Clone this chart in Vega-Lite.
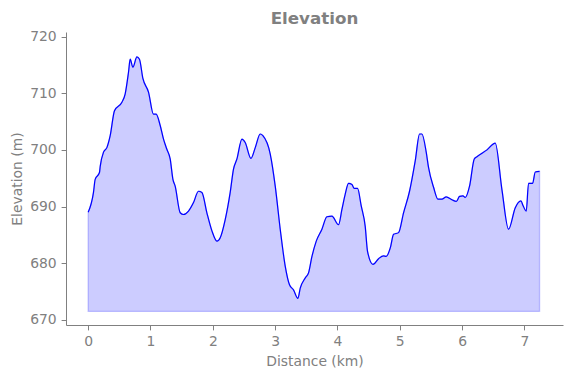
{
  "$schema": "https://vega.github.io/schema/vega-lite/v6.json",
  "width": 497,
  "height": 293,
  "autosize": {"type": "none"},
  "padding": {"left": 66, "top": 32, "right": 8, "bottom": 53},
  "title": {"text": "Elevation", "fontSize": 16.7, "fontWeight": "bold", "color": "#808080", "font": "DejaVu Sans", "offset": 2},
  "config": {
    "view": {"stroke": null},
    "axis": {
      "grid": false,
      "domainColor": "#808080",
      "tickColor": "#808080",
      "labelColor": "#808080",
      "titleColor": "#808080",
      "labelFont": "DejaVu Sans",
      "titleFont": "DejaVu Sans",
      "labelFontSize": 13.9,
      "titleFontSize": 13.9,
      "titleFontWeight": "normal",
      "tickSize": 4.9,
      "labelPadding": 4.9,
      "domainWidth": 1,
      "tickWidth": 1
    }
  },
  "data": {"values": [
    {"d": 0.0, "e": 689.0},
    {"d": 0.085, "e": 692.5},
    {"d": 0.112, "e": 694.8},
    {"d": 0.181, "e": 696.0},
    {"d": 0.193, "e": 697.1},
    {"d": 0.246, "e": 699.6},
    {"d": 0.300, "e": 700.4},
    {"d": 0.353, "e": 702.5},
    {"d": 0.422, "e": 706.9},
    {"d": 0.541, "e": 708.4},
    {"d": 0.594, "e": 709.9},
    {"d": 0.647, "e": 713.7},
    {"d": 0.674, "e": 716.0},
    {"d": 0.717, "e": 714.6},
    {"d": 0.782, "e": 716.4},
    {"d": 0.823, "e": 716.0},
    {"d": 0.878, "e": 712.6},
    {"d": 0.968, "e": 710.2},
    {"d": 1.048, "e": 706.3},
    {"d": 1.091, "e": 706.3},
    {"d": 1.156, "e": 704.3},
    {"d": 1.209, "e": 701.9},
    {"d": 1.263, "e": 700.1},
    {"d": 1.316, "e": 698.4},
    {"d": 1.360, "e": 694.8},
    {"d": 1.396, "e": 693.6},
    {"d": 1.477, "e": 688.9},
    {"d": 1.530, "e": 688.6},
    {"d": 1.610, "e": 689.2},
    {"d": 1.690, "e": 690.7},
    {"d": 1.770, "e": 692.7},
    {"d": 1.825, "e": 692.5},
    {"d": 1.905, "e": 688.9},
    {"d": 1.986, "e": 685.7},
    {"d": 2.066, "e": 683.9},
    {"d": 2.119, "e": 684.5},
    {"d": 2.199, "e": 687.7},
    {"d": 2.279, "e": 692.5},
    {"d": 2.332, "e": 696.6},
    {"d": 2.387, "e": 698.4},
    {"d": 2.467, "e": 701.9},
    {"d": 2.520, "e": 701.3},
    {"d": 2.612, "e": 698.5},
    {"d": 2.681, "e": 700.4},
    {"d": 2.761, "e": 702.8},
    {"d": 2.804, "e": 702.5},
    {"d": 2.921, "e": 699.3},
    {"d": 3.002, "e": 693.6},
    {"d": 3.082, "e": 686.0},
    {"d": 3.162, "e": 679.5},
    {"d": 3.231, "e": 676.2},
    {"d": 3.295, "e": 675.3},
    {"d": 3.366, "e": 673.8},
    {"d": 3.403, "e": 675.6},
    {"d": 3.483, "e": 677.4},
    {"d": 3.536, "e": 678.3},
    {"d": 3.591, "e": 681.2},
    {"d": 3.660, "e": 683.9},
    {"d": 3.751, "e": 686.0},
    {"d": 3.831, "e": 688.2},
    {"d": 3.912, "e": 688.3},
    {"d": 4.018, "e": 686.8},
    {"d": 4.072, "e": 689.5},
    {"d": 4.125, "e": 692.2},
    {"d": 4.178, "e": 694.1},
    {"d": 4.233, "e": 693.9},
    {"d": 4.270, "e": 693.2},
    {"d": 4.323, "e": 693.2},
    {"d": 4.382, "e": 690.1},
    {"d": 4.446, "e": 686.5},
    {"d": 4.483, "e": 682.1},
    {"d": 4.570, "e": 679.8},
    {"d": 4.660, "e": 680.8},
    {"d": 4.740, "e": 681.3},
    {"d": 4.783, "e": 681.2},
    {"d": 4.848, "e": 682.7},
    {"d": 4.901, "e": 685.1},
    {"d": 4.981, "e": 685.4},
    {"d": 5.061, "e": 688.9},
    {"d": 5.157, "e": 692.7},
    {"d": 5.249, "e": 698.1},
    {"d": 5.318, "e": 702.8},
    {"d": 5.356, "e": 702.8},
    {"d": 5.425, "e": 699.6},
    {"d": 5.462, "e": 696.9},
    {"d": 5.543, "e": 693.4},
    {"d": 5.613, "e": 691.3},
    {"d": 5.677, "e": 691.3},
    {"d": 5.746, "e": 691.7},
    {"d": 5.838, "e": 691.2},
    {"d": 5.907, "e": 690.9},
    {"d": 5.960, "e": 691.8},
    {"d": 6.014, "e": 691.9},
    {"d": 6.051, "e": 691.6},
    {"d": 6.120, "e": 693.6},
    {"d": 6.196, "e": 698.4},
    {"d": 6.239, "e": 698.8},
    {"d": 6.400, "e": 700.0},
    {"d": 6.533, "e": 701.2},
    {"d": 6.640, "e": 693.0},
    {"d": 6.746, "e": 686.0},
    {"d": 6.854, "e": 689.8},
    {"d": 6.945, "e": 691.0},
    {"d": 6.978, "e": 690.2},
    {"d": 7.030, "e": 689.2},
    {"d": 7.067, "e": 694.1},
    {"d": 7.132, "e": 694.1},
    {"d": 7.175, "e": 696.1},
    {"d": 7.244, "e": 696.2}
  ]},
  "encoding": {
    "x": {"field": "d", "type": "quantitative", "title": "Distance (km)",
      "scale": {"domain": [-0.356, 7.62], "nice": false, "zero": false},
      "axis": {"values": [0, 1, 2, 3, 4, 5, 6, 7], "titlePadding": 6}},
    "y": {"field": "e", "type": "quantitative", "title": "Elevation (m)",
      "scale": {"domain": [669.1, 720.8], "nice": false, "zero": false},
      "axis": {"values": [670, 680, 690, 700, 710, 720], "titlePadding": 5}}
  },
  "layer": [
    {"mark": {"type": "area", "interpolate": "monotone", "fill": "#0000ff", "fillOpacity": 0.2, "stroke": "#0000ff", "strokeOpacity": 0.2, "strokeWidth": 1.4},
     "encoding": {"y2": {"datum": 671.5}}},
    {"mark": {"type": "line", "interpolate": "monotone", "color": "#0000ff", "strokeWidth": 1.2}}
  ]
}
